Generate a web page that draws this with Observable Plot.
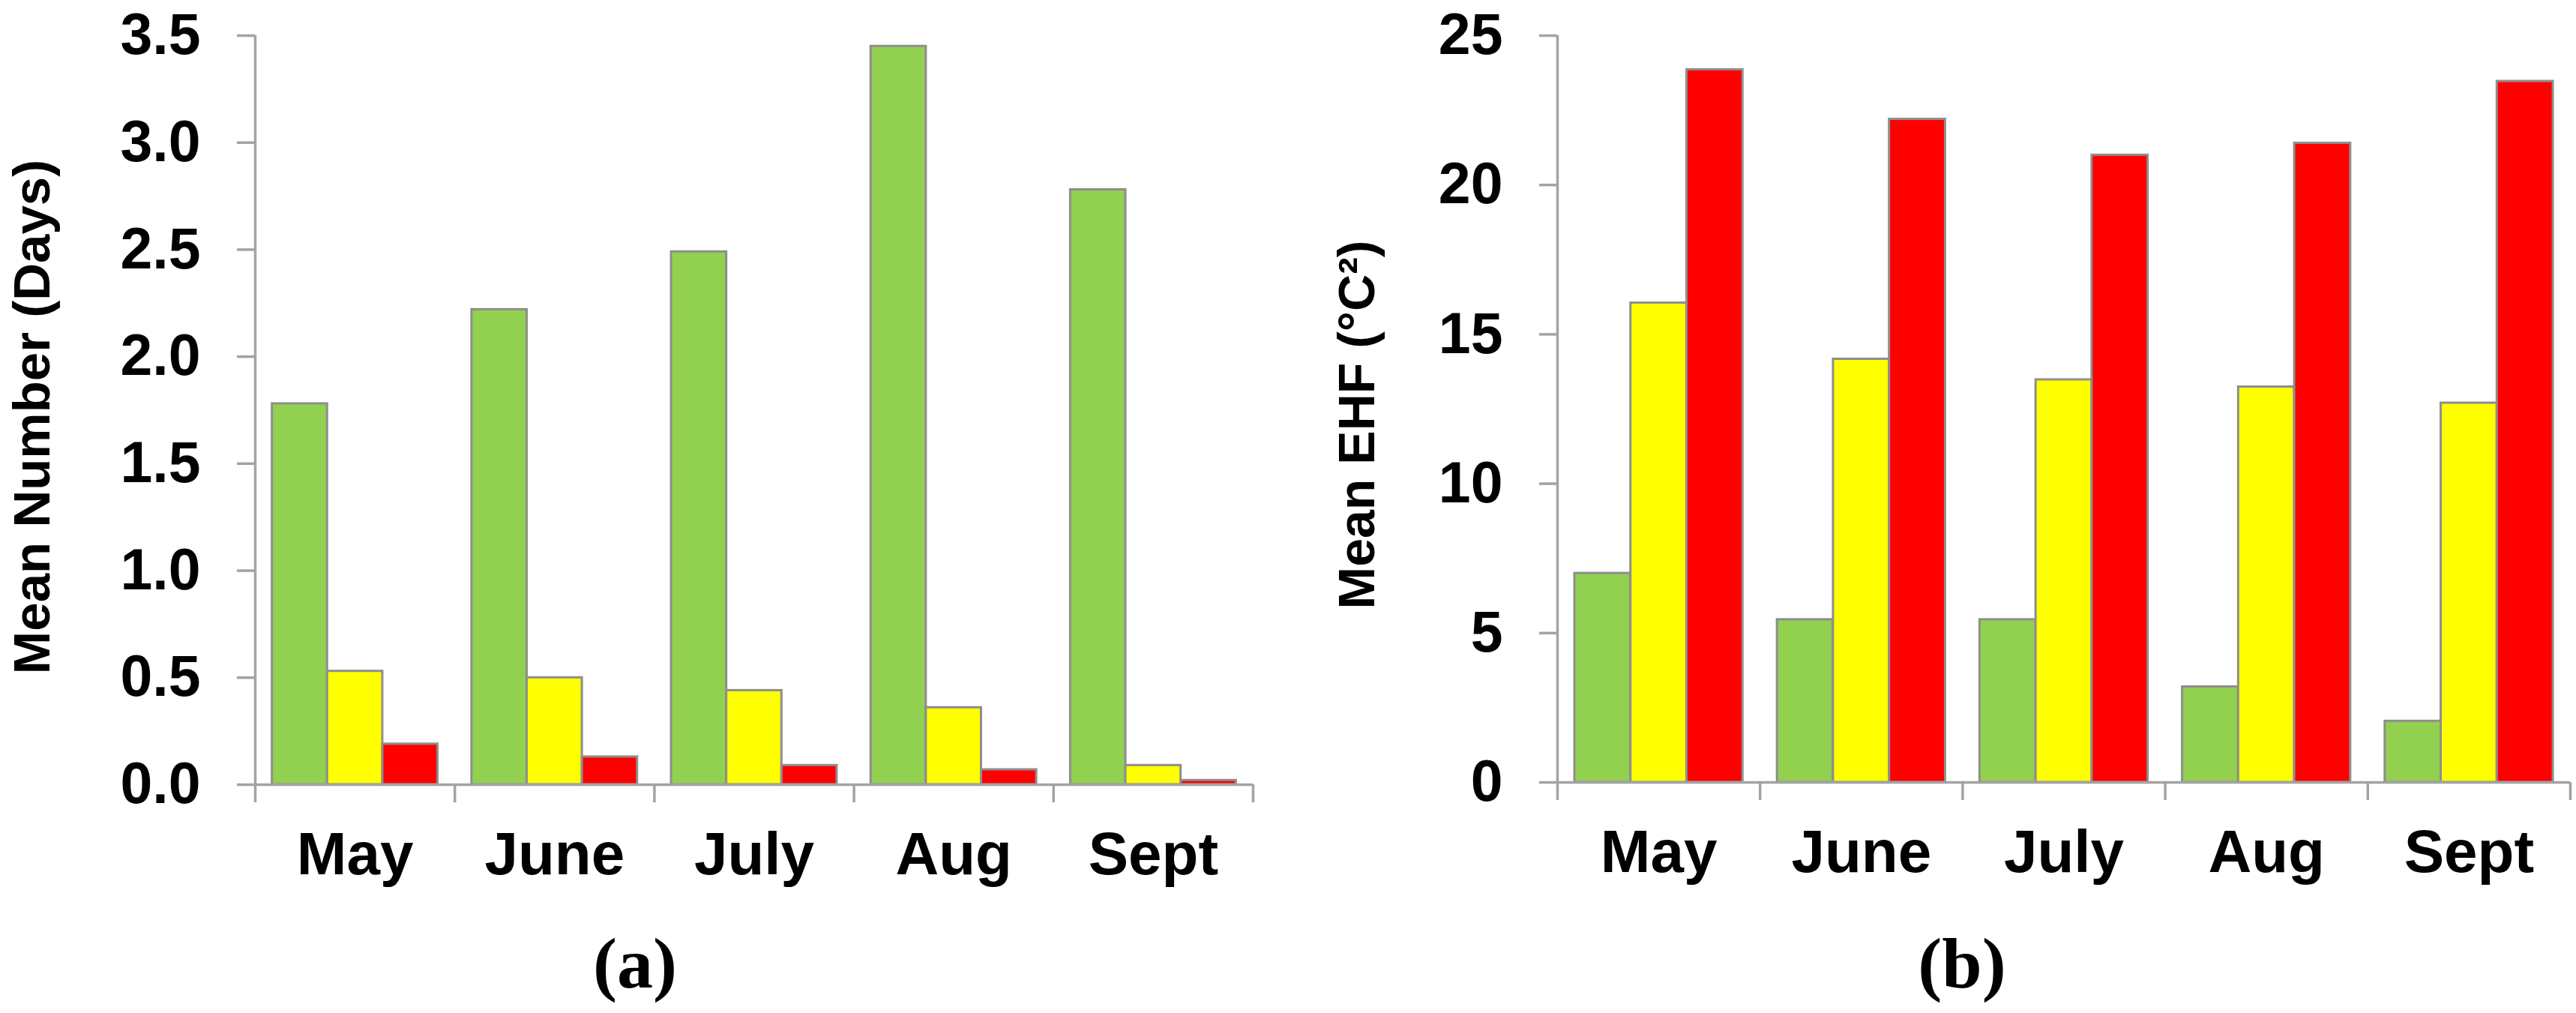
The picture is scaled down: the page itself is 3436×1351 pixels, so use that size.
<!DOCTYPE html>
<html>
<head>
<meta charset="utf-8">
<script src="https://cdn.jsdelivr.net/npm/d3@7"></script>
<script src="https://cdn.jsdelivr.net/npm/@observablehq/plot@0.6"></script>
<style>
  html, body { margin: 0; padding: 0; background: #fff; }
  #wrap { position: relative; width: 3436px; height: 1351px; overflow: hidden; background: #fff; }
  .panel { position: absolute; top: 0; }
  .cap { position: absolute; top: 1237px; font-family: "Liberation Serif", "Times New Roman", serif; font-weight: bold;
         font-size: 96px; line-height: 96px; transform: translateX(-50%); white-space: nowrap; color: #000; }
</style>
</head>
<body>
<div id="wrap"></div>
<script>
// ---- data ----
const months = ["May", "June", "July", "Aug", "Sept"];
const seriesNames = ["Low-intensity", "Severe", "Extreme"];
const seriesColors = ["#92D050", "#FFFF00", "#FF0000"];

// (a) Mean number of heatwave days
const daysLow     = [1.78, 2.22, 2.49, 3.45, 2.78];
const daysSevere  = [0.53, 0.50, 0.44, 0.36, 0.09];
const daysExtreme = [0.19, 0.13, 0.09, 0.07, 0.02];
const daysTicks   = [0, 0.5, 1, 1.5, 2, 2.5, 3, 3.5];

// (b) Mean EHF
const ehfLow      = [7.0, 5.45, 5.45, 3.2, 2.05];
const ehfSevere   = [16.05, 14.17, 13.48, 13.24, 12.7];
const ehfExtreme  = [23.86, 22.2, 21.0, 21.4, 23.47];
const ehfTicks    = [0, 5, 10, 15, 20, 25];

const labelA = "Mean Number (Days)";
const labelB = "Mean EHF (°C²)";
const captionA = "(a)";
const captionB = "(b)";

// ---- chart ----
const GROUP_PAD = 0.17;
const BAR_W = (1 - GROUP_PAD) / seriesNames.length;
const AXIS_GRAY = "#a3a3a3";
const BAR_EDGE = "#8e8e8e";
const FONT = '"Liberation Sans", Arial, Helvetica, sans-serif';

function rowsOf(seriesArrays) {
  return months.flatMap((m, i) => seriesNames.map((s, k) => ({
    month: m, mi: i, series: s, si: k, value: seriesArrays[k][i]
  })));
}

function panel({rows, yTicks, yFormat, yLabel, marginLeft, marginRight, marginTop, marginBottom, labelDx, labelDy, labelSize}) {
  return Plot.plot({
    width: 1718,
    height: 1230,
    marginLeft, marginRight, marginTop, marginBottom,
    style: {fontFamily: FONT, background: "white", color: "black", overflow: "visible"},
    x: {domain: [0, months.length]},
    y: {domain: [yTicks[0], yTicks[yTicks.length - 1]]},
    color: {domain: seriesNames, range: seriesColors},
    marks: [
      Plot.rect(rows, {
        x1: d => d.mi + GROUP_PAD / 2 + d.si * BAR_W,
        x2: d => d.mi + GROUP_PAD / 2 + (d.si + 1) * BAR_W,
        y1: 0,
        y2: "value",
        fill: "series",
        stroke: BAR_EDGE,
        strokeWidth: 3
      }),
      Plot.ruleY([0], {stroke: AXIS_GRAY, strokeWidth: 3.5}),
      Plot.ruleX([0], {stroke: AXIS_GRAY, strokeWidth: 3.5}),
      Plot.axisY({
        ticks: yTicks, tickFormat: yFormat, tickSize: 24, tickPadding: 49,
        stroke: AXIS_GRAY, strokeWidth: 3.5, fill: "black",
        fontSize: 77, fontWeight: "bold", fontFamily: FONT, label: null
      }),
      Plot.axisX({
        ticks: d3.range(months.length + 1), tickFormat: () => "", tickSize: 24,
        stroke: AXIS_GRAY, strokeWidth: 3.5, label: null
      }),
      Plot.axisX({
        ticks: months.map((m, i) => i + 0.5), tickFormat: d => months[Math.floor(d)],
        tickSize: 0, tickPadding: 63, fill: "black",
        fontSize: 80, fontWeight: "bold", fontFamily: FONT, label: null
      }),
      Plot.text([yLabel], {
        frameAnchor: "left", rotate: -90, textAnchor: "middle", lineAnchor: "top",
        dx: labelDx, dy: labelDy, fontSize: labelSize, fontWeight: "bold", fontFamily: FONT, fill: "black"
      })
    ]
  });
}

const wrap = document.getElementById("wrap");

const plotA = panel({
  rows: rowsOf([daysLow, daysSevere, daysExtreme]),
  yTicks: daysTicks, yFormat: d3.format(".1f"), yLabel: labelA,
  marginLeft: 340, marginRight: 47, marginTop: 47, marginBottom: 184,
  labelDx: -324, labelDy: 9, labelSize: 69
});
plotA.classList.add("panel");
plotA.style.left = "0px";
wrap.appendChild(plotA);

const plotB = panel({
  rows: rowsOf([ehfLow, ehfSevere, ehfExtreme]),
  yTicks: ehfTicks, yFormat: d3.format("d"), yLabel: labelB,
  marginLeft: 359, marginRight: 8, marginTop: 47, marginBottom: 187,
  labelDx: -293, labelDy: 21, labelSize: 68
});
plotB.classList.add("panel");
plotB.style.left = "1718px";
wrap.appendChild(plotB);

for (const [txt, cx] of [[captionA, 847], [captionB, 2617]]) {
  const d = document.createElement("div");
  d.className = "cap";
  d.style.left = cx + "px";
  d.textContent = txt;
  wrap.appendChild(d);
}
</script>
</body>
</html>
